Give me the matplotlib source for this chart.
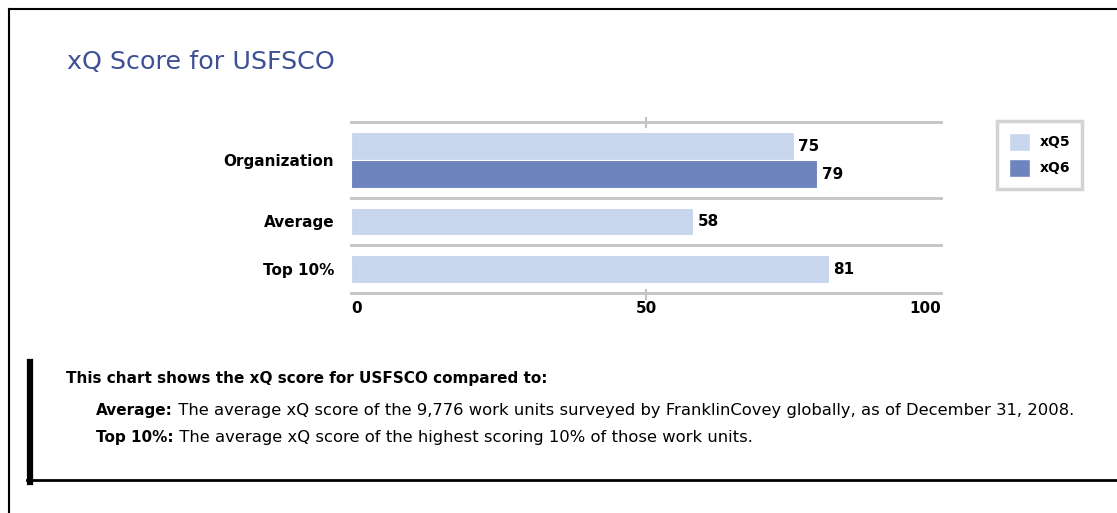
import matplotlib
matplotlib.use('Agg')
import matplotlib.pyplot as plt
from matplotlib.lines import Line2D
from matplotlib.patches import Patch

categories = ['Organization', 'Average', 'Top 10%']
xq5 = [75, 58, 81]
xq6 = [79, None, None]
series_names = ['xQ5', 'xQ6']
x_ticks = [0, 50, 100]

title = 'xQ Score for USFSCO'
note_head = 'This chart shows the xQ score for USFSCO compared to:'
note_rows = [
    ('Average:', ' The average xQ score of the 9,776 work units surveyed by FranklinCovey globally, as of December 31, 2008.'),
    ('Top 10%:', ' The average xQ score of the highest scoring 10% of those work units.'),
]

light = '#c8d6ed'
dark = '#6e84bf'
line_gray = '#c4c4c4'
title_blue = '#3f5196'

W, H = 1117, 513
fig = plt.figure(figsize=(W / 100, H / 100), dpi=100)

# outer frame (top + left)
fig.add_artist(Line2D([9 / W, 1], [1 - 9 / H, 1 - 9 / H], color='black', lw=1.5))
fig.add_artist(Line2D([9 / W, 9 / W], [0, 1 - 9 / H], color='black', lw=1.5))

fig.text(67 / W, 1 - 62 / H, title, fontsize=18.3, color=title_blue, va='center')

ax = fig.add_axes([351 / W, 1 - 293 / H, 590 / W, 171 / H])

bar_h = 28
pad = 20
y0 = 0
seps = [0]
centers = []
for i, cat in enumerate(categories):
    vals = [(v, c) for v, c in ((xq5[i], light), (xq6[i], dark)) if v is not None]
    top = y0 + pad / 2
    for j, (v, c) in enumerate(vals):
        yc = top + bar_h * (j + 0.5)
        ax.barh(yc, v, height=bar_h, color=c, edgecolor='white', linewidth=0.8)
        ax.text(v + 0.8, yc + 0.5, str(v), va='center', ha='left', fontsize=11, fontweight='bold')
    centers.append(y0 + (pad + bar_h * len(vals)) / 2)
    y0 += pad + bar_h * len(vals)
    seps.append(y0)

ax.set_xlim(0, 100)
ax.set_ylim(y0, 0)
for s in ax.spines.values():
    s.set_visible(False)
for s in seps:
    ax.plot([0, 100], [s, s], color=line_gray, lw=2, clip_on=False, zorder=0)
ax.plot([50, 50], [-4, 5], color=line_gray, lw=1.5, clip_on=False)
ax.plot([50, 50], [y0 - 3, y0 + 6], color=line_gray, lw=1.5, clip_on=False)

ax.set_yticks(centers, categories, fontsize=11, fontweight='bold')
ax.set_xticks(x_ticks, [str(t) for t in x_ticks], fontsize=11, fontweight='bold')
ax.tick_params(length=0)
ax.tick_params(axis='y', pad=12)
ax.tick_params(axis='x', pad=6)
xl = ax.get_xticklabels()
xl[0].set_ha('left')
xl[-1].set_ha('right')

handles = [Patch(facecolor=light, edgecolor='white'), Patch(facecolor=dark, edgecolor='white')]
leg = fig.legend(handles, series_names, loc='upper left',
                 bbox_to_anchor=(997 / W, 1 - 121 / H), borderaxespad=0,
                 fancybox=False, handlelength=1.5, handleheight=1.6,
                 labelspacing=0.6, borderpad=0.85, handletextpad=0.7,
                 prop={'weight': 'bold', 'size': 10})
leg.get_frame().set_edgecolor('#c8c8c8')
leg.get_frame().set_linewidth(2.5)

# note block
fig.add_artist(Line2D([30 / W, 30 / W], [1 - 362 / H, 1 - 482 / H], color='black', lw=4.5))
fig.add_artist(Line2D([27 / W, 1], [1 - 480 / H, 1 - 480 / H], color='black', lw=2))
fig.text(66 / W, 1 - 383 / H, note_head, fontsize=11, fontweight='bold', va='baseline')

fig.canvas.draw()
renderer = fig.canvas.get_renderer()
for k, (bold, rest) in enumerate(note_rows):
    yb = 1 - (415 + 27 * k) / H
    t = fig.text(96 / W, yb, bold, fontsize=11, fontweight='bold', va='baseline')
    bb = t.get_window_extent(renderer)
    fig.text(bb.x1 / W, yb, rest, fontsize=11.8, va='baseline')

fig.savefig('out.png', dpi=100)
